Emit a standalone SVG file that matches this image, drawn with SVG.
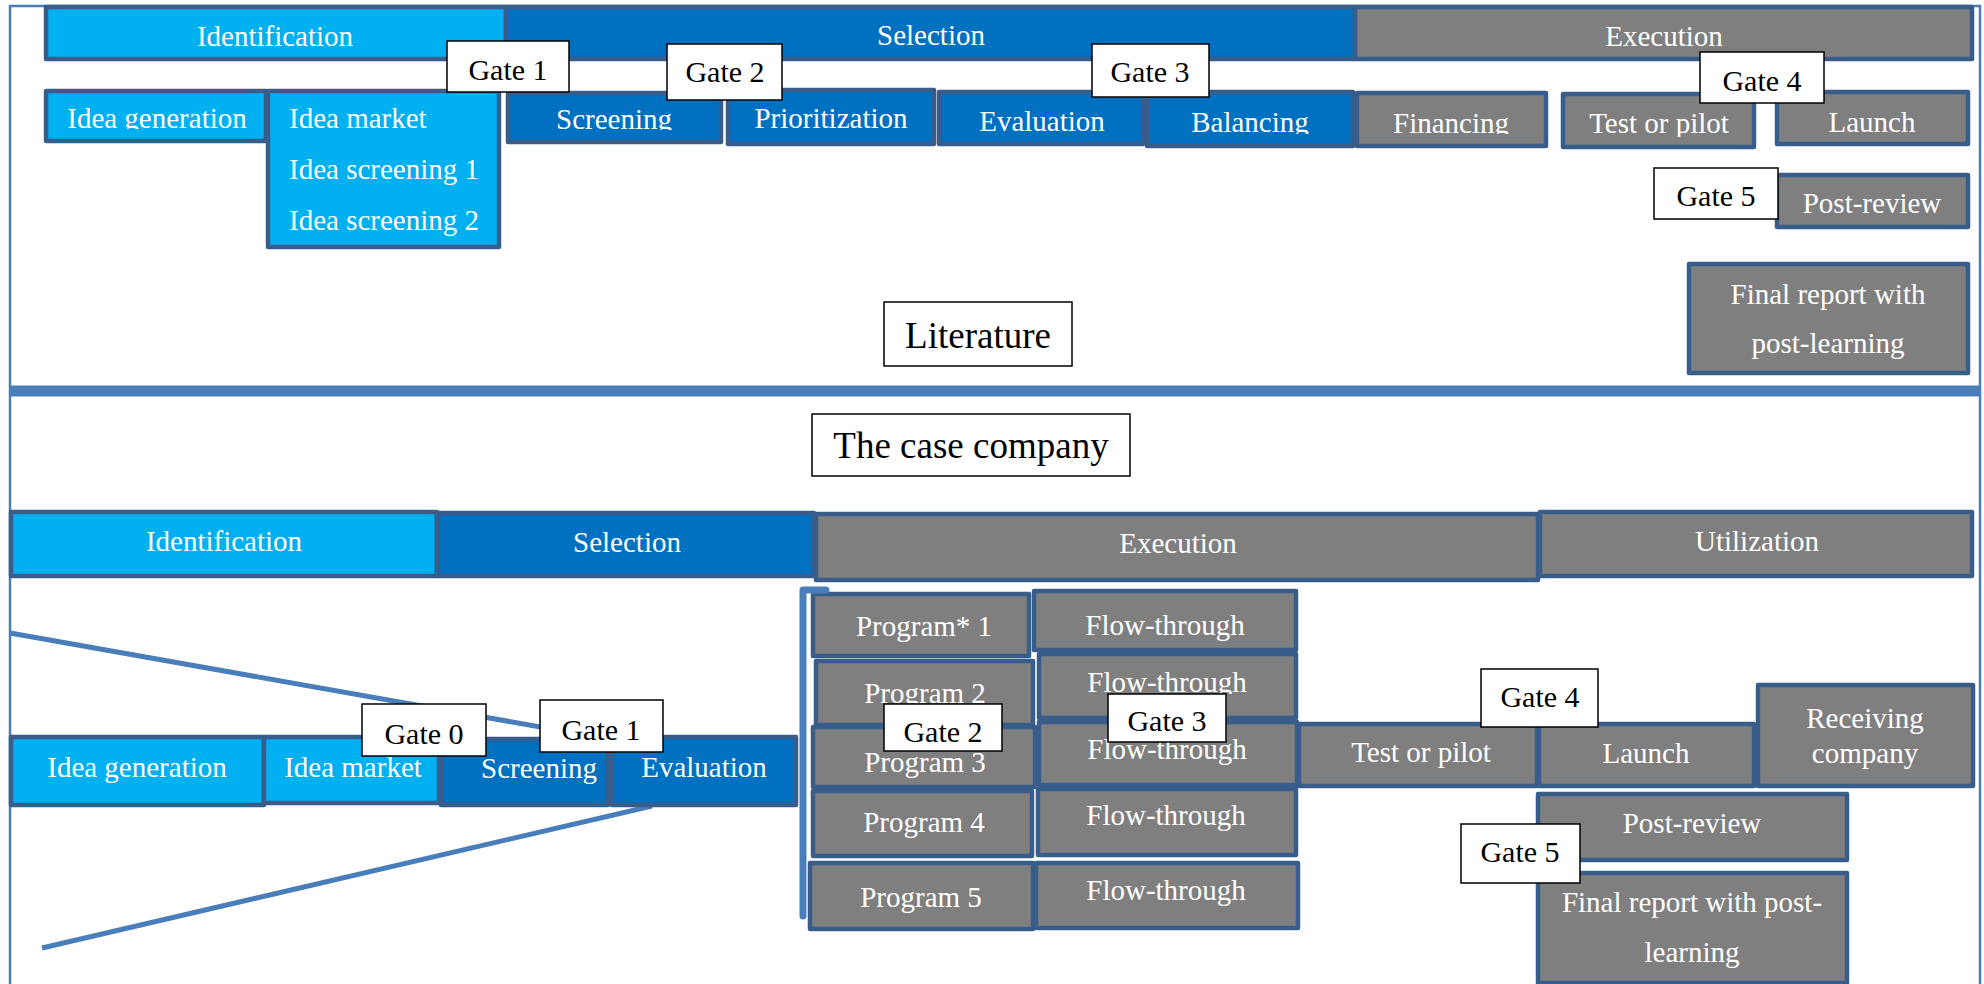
<svg xmlns="http://www.w3.org/2000/svg" width="1984" height="984" viewBox="0 0 1984 984">
<style>
.lb{fill:#00B0F0;stroke:#385D8A;stroke-width:4.5;stroke-linejoin:round}
.db{fill:#0070C0;stroke:#385D8A;stroke-width:4.5;stroke-linejoin:round}
.gr{fill:#7F7F7F;stroke:#385D8A;stroke-width:4.5;stroke-linejoin:round}
.gate{fill:#FFFFFF;stroke:#000000;stroke-width:1.5}
.wt{font-family:"Liberation Serif","Times New Roman",serif;font-size:29px;fill:#FFFFFF;text-anchor:middle}
.wl{font-family:"Liberation Serif","Times New Roman",serif;font-size:29px;fill:#FFFFFF}
.bt{font-family:"Liberation Serif","Times New Roman",serif;font-size:30px;fill:#000000;text-anchor:middle}
.big{font-family:"Liberation Serif","Times New Roman",serif;font-size:37px;fill:#000000;text-anchor:middle}
.ln{fill:none;stroke:#4A7EBB}
</style>
<defs>
<clipPath id="cIdg"><rect x="40" y="85" width="230" height="44"/></clipPath>
<clipPath id="cScr"><rect x="500" y="85" width="230" height="45"/></clipPath>
<clipPath id="cBal"><rect x="1140" y="85" width="220" height="49"/></clipPath>
<clipPath id="cFin"><rect x="1350" y="85" width="200" height="49"/></clipPath>
<clipPath id="cTop"><rect x="1555" y="85" width="205" height="52"/></clipPath>
<clipPath id="cP2"><rect x="810" y="655" width="230" height="49"/></clipPath>
<clipPath id="cF2"><rect x="1035" y="650" width="265" height="44"/></clipPath>
</defs>
<rect width="1984" height="984" fill="#FFFFFF"/>

<g id="frame">
<path class="ln" d="M10,984 V6 H1980 V984" stroke-width="2.5"/>
<line class="ln" x1="10" y1="391" x2="1980" y2="391" stroke-width="11"/>
</g>

<!-- Literature section -->
<g id="lit-identification"><rect class="lb" x="46" y="7" width="460" height="52"/><text class="wt" x="275" y="46">Identification</text></g>
<g id="lit-selection"><rect class="db" x="506" y="7" width="849" height="52"/><text class="wt" x="931" y="45">Selection</text></g>
<g id="lit-execution"><rect class="gr" x="1355" y="7" width="617" height="52"/><text class="wt" x="1664" y="46">Execution</text></g>

<g id="lit-idea-generation"><rect class="lb" x="46" y="91" width="220" height="50"/><text class="wt" x="157" y="128" clip-path="url(#cIdg)">Idea generation</text></g>
<g id="lit-idea-market"><rect class="lb" x="268" y="91" width="231" height="156"/>
<text class="wl" x="289" y="128">Idea market</text>
<text class="wl" x="289" y="179">Idea screening 1</text>
<text class="wl" x="289" y="230">Idea screening 2</text></g>
<g id="lit-screening"><rect class="db" x="508" y="93" width="213" height="49"/><text class="wt" x="614" y="129" clip-path="url(#cScr)">Screening</text></g>
<g id="lit-prioritization"><rect class="db" x="728" y="90" width="206" height="54"/><text class="wt" x="831" y="128">Prioritization</text></g>
<g id="lit-evaluation"><rect class="db" x="939" y="92" width="204" height="52"/><text class="wt" x="1042" y="131">Evaluation</text></g>
<g id="lit-balancing"><rect class="db" x="1147" y="92" width="206" height="54"/><text class="wt" x="1250" y="132" clip-path="url(#cBal)">Balancing</text></g>
<g id="lit-financing"><rect class="gr" x="1357" y="93" width="189" height="53"/><text class="wt" x="1451" y="133" clip-path="url(#cFin)">Financing</text></g>
<g id="lit-test"><rect class="gr" x="1563" y="94" width="191" height="53"/><text class="wt" x="1659" y="133" clip-path="url(#cTop)">Test or pilot</text></g>
<g id="lit-launch"><rect class="gr" x="1777" y="92" width="191" height="52"/><text class="wt" x="1872" y="132">Launch</text></g>
<g id="lit-post-review"><rect class="gr" x="1777" y="175" width="191" height="52"/><text class="wt" x="1872" y="213">Post-review</text></g>
<g id="lit-final-report"><rect class="gr" x="1689" y="264" width="279" height="109"/>
<text class="wt" x="1828" y="304">Final report with</text>
<text class="wt" x="1828" y="353">post-learning</text></g>

<g id="lit-gate1"><rect class="gate" x="447" y="41" width="122" height="51"/><text class="bt" x="508" y="80">Gate 1</text></g>
<g id="lit-gate2"><rect class="gate" x="667" y="44" width="115" height="56"/><text class="bt" x="725" y="82">Gate 2</text></g>
<g id="lit-gate3"><rect class="gate" x="1092" y="44" width="117" height="53"/><text class="bt" x="1150" y="82">Gate 3</text></g>
<g id="lit-gate4"><rect class="gate" x="1700" y="52" width="124" height="51"/><text class="bt" x="1762" y="91">Gate 4</text></g>
<g id="lit-gate5"><rect class="gate" x="1654" y="168" width="124" height="51"/><text class="bt" x="1716" y="206">Gate 5</text></g>

<g id="literature-label"><rect class="gate" x="884" y="302" width="188" height="64"/><text class="big" x="978" y="348">Literature</text></g>

<!-- Case company section -->
<g id="case-label"><rect class="gate" x="812" y="414" width="318" height="62"/><text class="big" x="971" y="458">The case company</text></g>

<g id="case-identification"><rect class="lb" x="11" y="512" width="426" height="64"/><text class="wt" x="224" y="551">Identification</text></g>
<g id="case-selection"><rect class="db" x="437" y="513" width="377" height="63"/><text class="wt" x="627" y="552">Selection</text></g>
<g id="case-execution"><rect class="gr" x="816" y="514" width="722" height="66"/><text class="wt" x="1178" y="553">Execution</text></g>
<g id="case-utilization"><rect class="gr" x="1540" y="512" width="432" height="64"/><text class="wt" x="1757" y="551">Utilization</text></g>

<g id="connectors">
<line class="ln" x1="10" y1="633" x2="546" y2="728" stroke-width="5"/>
<line class="ln" x1="42" y1="948" x2="652" y2="806" stroke-width="5"/>
</g>

<g id="case-idea-generation"><rect class="lb" x="11" y="737" width="253" height="68"/><text class="wt" x="137" y="777">Idea generation</text></g>
<g id="case-idea-market"><rect class="lb" x="264" y="737" width="175" height="66"/><text class="wt" x="353" y="777">Idea market</text></g>
<g id="case-screening"><rect class="db" x="441" y="739" width="167" height="66"/><text class="wt" x="539" y="778">Screening</text></g>
<g id="case-evaluation"><rect class="db" x="612" y="737" width="184" height="68"/><text class="wt" x="704" y="777">Evaluation</text></g>

<g id="program1"><rect class="gr" x="813" y="594" width="216" height="62"/><text class="wt" x="924" y="636">Program* 1</text></g>
<g id="flow1"><rect class="gr" x="1034" y="591" width="262" height="59"/><text class="wt" x="1165" y="635">Flow-through</text></g>
<g id="program2"><rect class="gr" x="816" y="661" width="217" height="64"/><text class="wt" x="925" y="703" clip-path="url(#cP2)">Program 2</text></g>
<g id="flow2"><rect class="gr" x="1039" y="654" width="257" height="64"/><text class="wt" x="1167" y="692" clip-path="url(#cF2)">Flow-through</text></g>
<g id="program3"><rect class="gr" x="813" y="727" width="222" height="60"/><text class="wt" x="925" y="772">Program 3</text></g>
<g id="flow3"><rect class="gr" x="1039" y="722" width="258" height="63"/><text class="wt" x="1167" y="759">Flow-through</text></g>
<g id="case-test"><rect class="gr" x="1299" y="724" width="238" height="62"/><text class="wt" x="1421" y="762">Test or pilot</text></g>
<g id="case-launch"><rect class="gr" x="1539" y="724" width="215" height="62"/><text class="wt" x="1646" y="763">Launch</text></g>
<g id="case-receiving"><rect class="gr" x="1758" y="685" width="215" height="101"/>
<text class="wt" x="1865" y="728">Receiving</text>
<text class="wt" x="1865" y="763">company</text></g>
<g id="program4"><rect class="gr" x="813" y="791" width="219" height="65"/><text class="wt" x="924" y="832">Program 4</text></g>
<g id="flow4"><rect class="gr" x="1038" y="789" width="258" height="66"/><text class="wt" x="1166" y="825">Flow-through</text></g>
<g id="program5"><rect class="gr" x="810" y="863" width="223" height="66"/><text class="wt" x="921" y="907">Program 5</text></g>
<g id="flow5"><rect class="gr" x="1036" y="863" width="262" height="65"/><text class="wt" x="1166" y="900">Flow-through</text></g>
<g id="case-post-review"><rect class="gr" x="1538" y="794" width="309" height="66"/><text class="wt" x="1692" y="833">Post-review</text></g>
<g id="case-final-report"><rect class="gr" x="1538" y="873" width="309" height="110"/>
<text class="wt" x="1692" y="912">Final report with post-</text>
<text class="wt" x="1692" y="962">learning</text></g>

<g id="program-bracket"><path class="ln" d="M826,590 H803 V916" stroke-width="7" stroke-linecap="round" stroke-linejoin="round"/></g>

<g id="case-gate0"><rect class="gate" x="362" y="704" width="124" height="52"/><text class="bt" x="424" y="744">Gate 0</text></g>
<g id="case-gate1"><rect class="gate" x="540" y="700" width="123" height="52"/><text class="bt" x="601" y="740">Gate 1</text></g>
<g id="case-gate2"><rect class="gate" x="884" y="704" width="118" height="47"/><text class="bt" x="943" y="742">Gate 2</text></g>
<g id="case-gate3"><rect class="gate" x="1108" y="694" width="118" height="48"/><text class="bt" x="1167" y="731">Gate 3</text></g>
<g id="case-gate4"><rect class="gate" x="1481" y="669" width="117" height="58"/><text class="bt" x="1540" y="707">Gate 4</text></g>
<g id="case-gate5"><rect class="gate" x="1461" y="824" width="119" height="59"/><text class="bt" x="1520" y="862">Gate 5</text></g>
</svg>
